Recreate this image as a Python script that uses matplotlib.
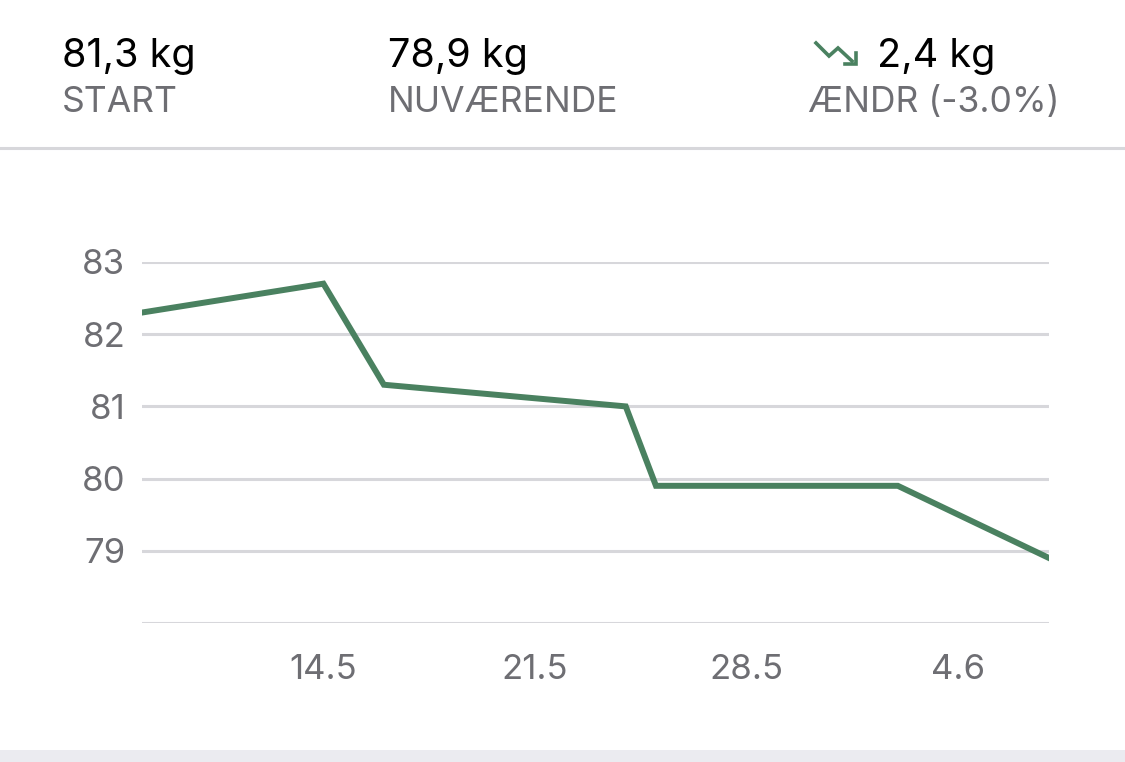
import matplotlib
matplotlib.use("Agg")
import matplotlib.pyplot as plt
import pandas as pd
from matplotlib.lines import Line2D
from matplotlib.patches import Rectangle

plt.rcParams['font.family'] = ['Inter', 'DejaVu Sans']

# weight log (day.month)
dates = pd.to_datetime(["2019-05-08", "2019-05-14", "2019-05-16", "2019-05-24",
                        "2019-05-25", "2019-06-02", "2019-06-07"])
weights = [82.3, 82.7, 81.3, 81.0, 79.9, 79.9, 78.9]

tick_dates = pd.to_datetime(["2019-05-14", "2019-05-21", "2019-05-28", "2019-06-04"])
y_ticks = [79, 80, 81, 82, 83]
grid_levels = [78, 79, 80, 81, 82, 83]

summary_values = ["81,3 kg", "78,9 kg", "2,4 kg"]
summary_labels = ["START", "NUVÆRENDE", "ÆNDR (-3.0%)"]

green = "#4a8160"
grid_col = "#d7d7db"
label_col = "#6e6e73"

W, H = 1125, 762
fig = plt.figure(figsize=(W / 100, H / 100), dpi=100)
fig.patch.set_facecolor("white")

# ---------------------------------------------------------------- header
xs = [62, 388, 808]
fig.text(xs[0] / W, 1 - 67 / H, summary_values[0], fontsize=28.5, color="black", va="baseline")
fig.text(xs[1] / W, 1 - 67 / H, summary_values[1], fontsize=28.5, color="black", va="baseline")
fig.text(877 / W, 1 - 67 / H, summary_values[2], fontsize=28.5, color="black", va="baseline")
for x, lab in zip(xs, summary_labels):
    fig.text(x / W, 1 - 112 / H, lab, fontsize=25.5, color=label_col, va="baseline")

# trend-down icon
px = [816, 829, 838, 852]
py = [43, 56, 48, 61]
fig.add_artist(Line2D([p / W for p in px], [1 - p / H for p in py], color=green,
                      lw=2.6, solid_joinstyle="miter"))
fig.add_artist(Line2D([845 / W, 856 / W, 856 / W], [1 - 64 / H, 1 - 64 / H, 1 - 53 / H],
                      color=green, lw=2.6, solid_joinstyle="miter"))

# separator + bottom band
fig.add_artist(Line2D([0, 1], [1 - 148 / H, 1 - 148 / H], color=grid_col, lw=2.2))
fig.add_artist(Rectangle((0, 0), 1, 12 / H, transform=fig.transFigure,
                         facecolor="#ebebf0", edgecolor="none"))

# ---------------------------------------------------------------- chart
left, right = 142 / W, 1049 / W
bottom, top = (H - 623) / H, (H - 262) / H
ax = fig.add_axes([left, bottom, right - left, top - bottom])
ax.set_facecolor("none")

for lvl in grid_levels:
    ax.axhline(lvl, color=grid_col, lw=2.2, zorder=1)

ax.plot(dates, weights, color=green, lw=4.3, solid_joinstyle="miter", zorder=3)

ax.set_xlim(pd.Timestamp("2019-05-08"), pd.Timestamp("2019-06-07"))
ax.set_ylim(78, 83)
ax.set_yticks(y_ticks)
ax.set_yticklabels([str(v) for v in y_ticks])
ax.set_xticks(tick_dates)
ax.set_xticklabels([f"{d.day}.{d.month}" for d in tick_dates])

ax.tick_params(axis="both", length=0, labelsize=25, labelcolor=label_col)
ax.tick_params(axis="y", pad=12)
ax.tick_params(axis="x", pad=22)
for s in ax.spines.values():
    s.set_visible(False)

fig.savefig("out.png", dpi=100)
